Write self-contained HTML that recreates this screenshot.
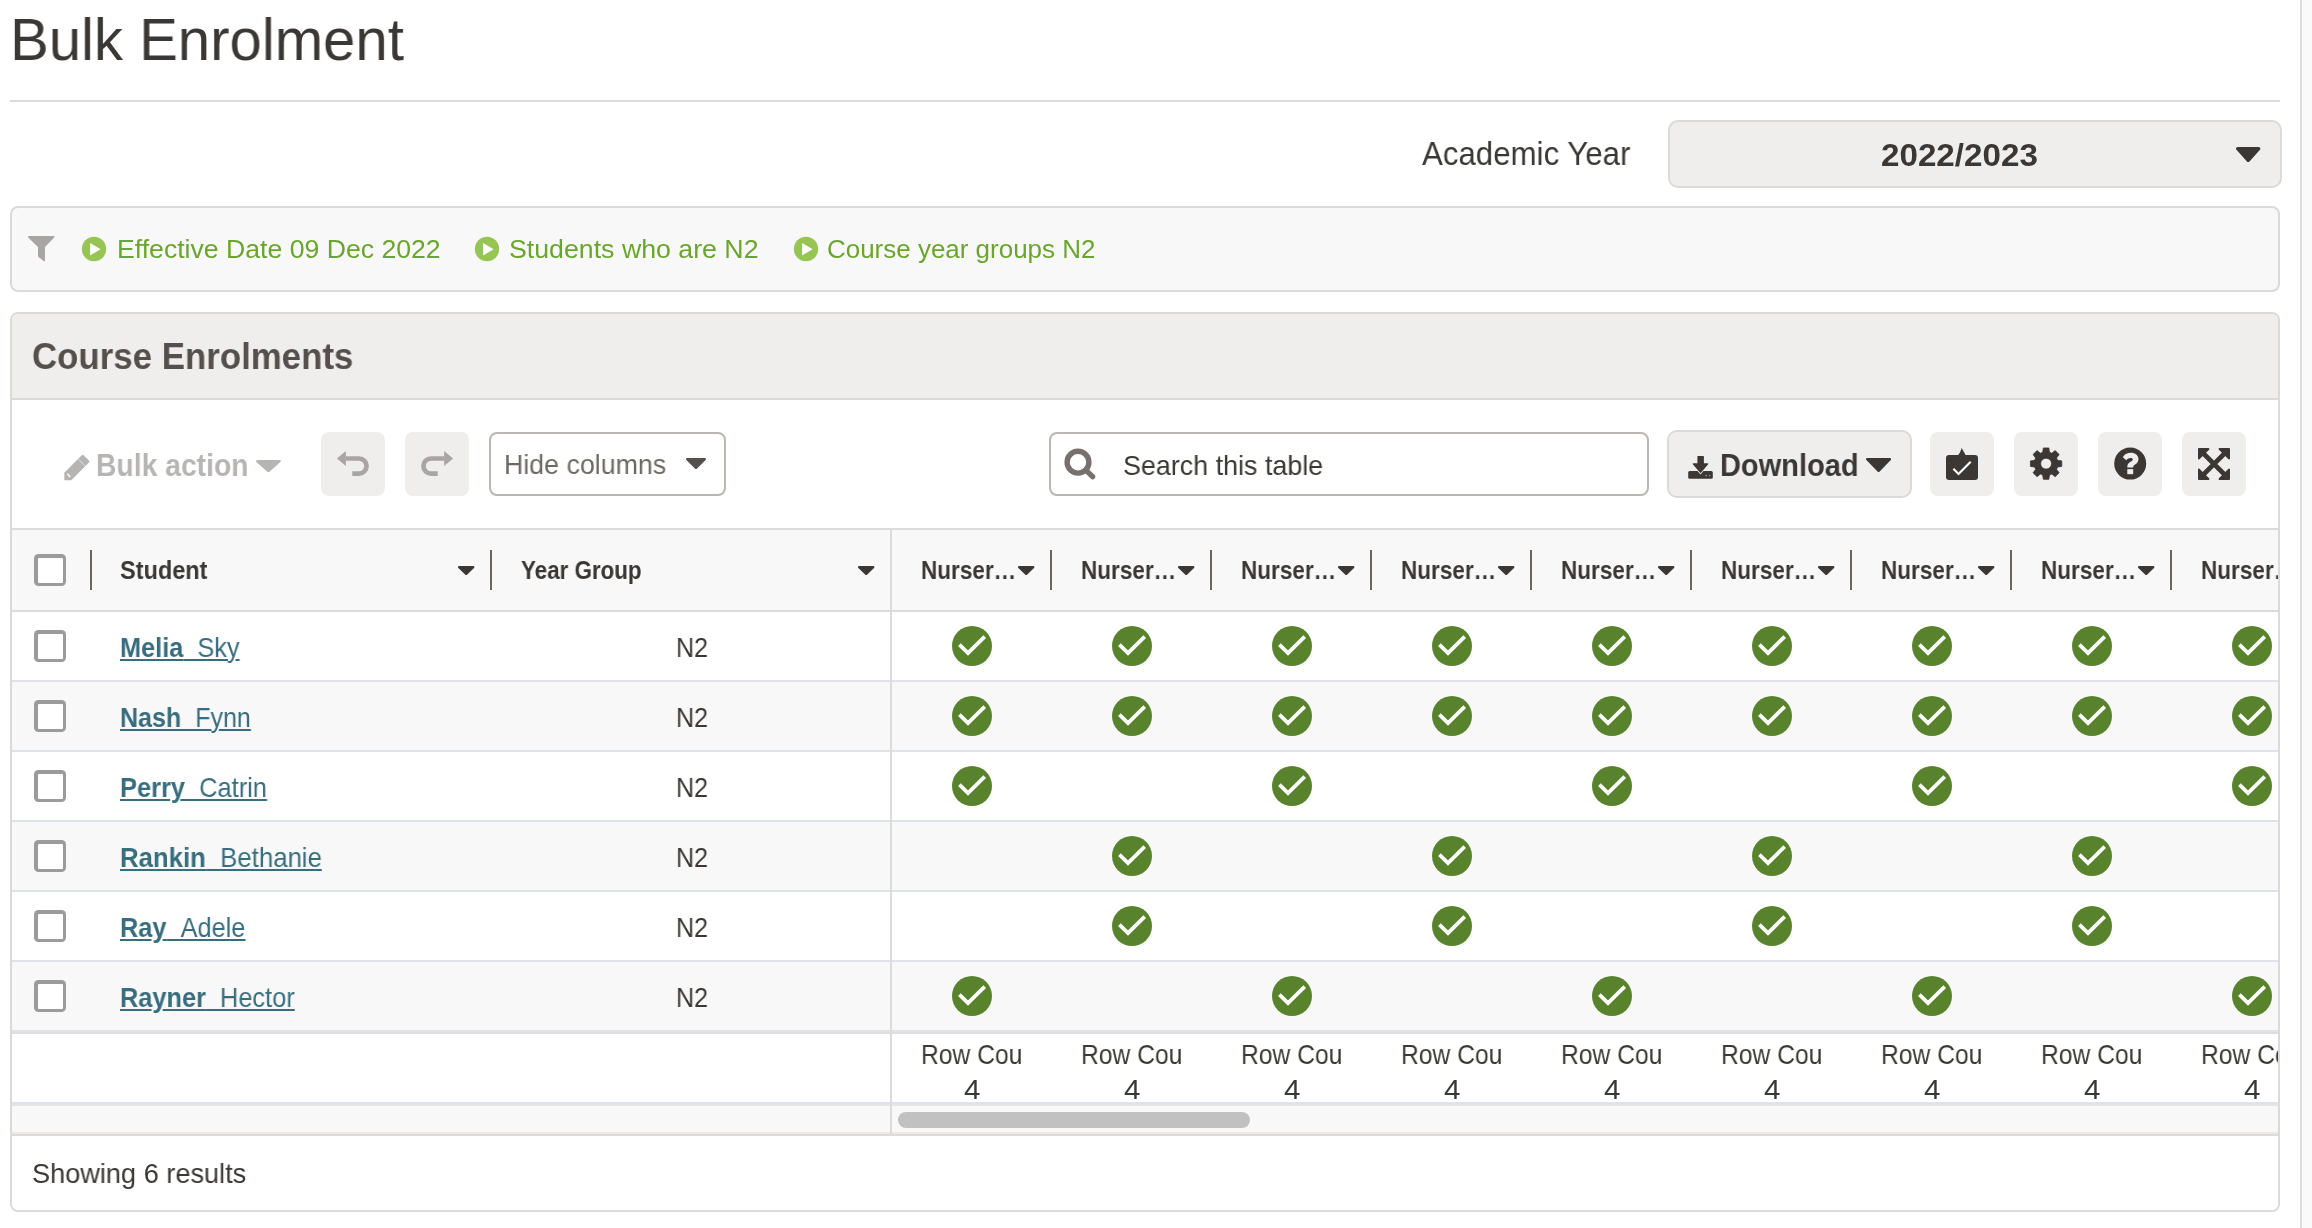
<!DOCTYPE html>
<html lang="en"><head><meta charset="utf-8"><title>Bulk Enrolment</title>
<style>
*{box-sizing:border-box;margin:0;padding:0}
html,body{width:2312px;height:1228px;overflow:hidden;background:#fafafa}
body{font-family:"Liberation Sans",Arial,sans-serif;color:#3b3735;position:relative}
#page{position:absolute;left:0;top:0;width:2302px;height:1228px;background:#fff;border-right:2px solid #e0dedd;overflow:hidden}
.abs{position:absolute;display:block}
.t{will-change:transform;position:absolute;white-space:nowrap;transform-origin:0 50%;display:block;font-weight:400}
.t b{font-weight:700}
a.t{text-decoration:underline;text-decoration-thickness:2px;text-underline-offset:2px}
h1.t,h2.t{font-weight:400}
hr{position:absolute;left:10px;top:100px;width:2270px;height:2px;border:0;background:#dddbda}
.box{position:absolute}
#aysel{left:1668px;top:120px;width:614px;height:68px;background:#efeeed;border:2px solid #dcdad9;border-radius:10px}
#filters{left:10px;top:206px;width:2270px;height:86px;background:#f8f8f8;border:2px solid #dcdad9;border-radius:8px}
#panel{left:10px;top:312px;width:2270px;height:900px;background:#fff;border:2px solid #dcdad9;border-radius:8px;overflow:hidden}
#phead{left:0;top:0;width:2266px;height:86px;background:#efeeed;border-bottom:2px solid #dcdad9}
#toolbar{left:0;top:86px;width:2266px;height:130px;background:#fff;border-bottom:2px solid #dddbda}
.btn{position:absolute;width:64px;height:64px;background:#efeeed;border-radius:8px}
.sel{position:absolute;background:#fff;border:2px solid #b9b6b4;border-radius:8px}
#dl{position:absolute;background:#efeeed;border:2px solid #dcdad9;border-radius:10px}
#grid{left:0;top:216px;width:2266px;height:606px;overflow:hidden}
.grow{position:absolute;left:0;width:2266px}
.cb{position:absolute;width:32px;height:32px;border-radius:4.5px;background:#9b9b9b}
.cb::before{content:"";position:absolute;left:3.5px;top:3.5px;right:3.5px;bottom:3.5px;background:#fff;border-radius:1px}
.sep{position:absolute;width:2px;height:40px;background:#6b6562}
#frozen{position:absolute;left:878px;top:0;width:2px;height:604px;background:#dddbda}
#pfoot{left:0;top:822px;width:2266px;height:74px;background:#fff}
</style></head><body><div id="page">

<h1 class="t" style="left:10.26px;top:4.66px;font-size:58.70px;line-height:70px;color:#3b3735;transform:scaleX(0.9897);">Bulk Enrolment</h1>
<hr>
<label class="t" style="left:1422.30px;top:134.47px;font-size:33.00px;line-height:40px;color:#3b3735;transform:scaleX(0.9466);">Academic Year</label>
<div class="box" id="aysel">
<span class="t" style="left:210.96px;top:14.95px;font-size:31.30px;line-height:38px;color:#3b3735;transform:scaleX(1.0602);font-weight:700;">2022/2023</span>
<svg class="abs" style="left:566.30px;top:24.90px" width="24.40" height="15.10" viewBox="0 0 24.40 15.10"><polygon points="1.70,1.70 22.70,1.70 12.20,13.40" fill="#3b3735" stroke="#3b3735" stroke-width="3.4" stroke-linejoin="round"/></svg>
</div>
<div class="box" id="filters">
<svg class="abs" style="left:14px;top:26px" width="30" height="30" viewBox="26 234 30 30"><path d="M29,236 H53.4 Q55.2,236.2 54,237.8 L45,247 V260.6 Q44.8,262 43.6,261 L38,256.5 V247 L28.4,237.8 Q27.4,236.2 29,236Z" fill="#a9a5a4"/></svg>
<svg class="abs" style="left:69.00px;top:28.00px" width="26" height="26" viewBox="-13 -13 26 26"><circle r="12.2" fill="#97c554"/><path d="M-3.9,-6 L6.6,0.2 L-3.9,6.4Z" fill="#fff"/></svg>
<span class="t" style="left:104.82px;top:26.40px;font-size:25.40px;line-height:30px;color:#6ba52f;transform:scaleX(1.0486);">Effective Date 09 Dec 2022</span>
<svg class="abs" style="left:461.90px;top:28.00px" width="26" height="26" viewBox="-13 -13 26 26"><circle r="12.2" fill="#97c554"/><path d="M-3.9,-6 L6.6,0.2 L-3.9,6.4Z" fill="#fff"/></svg>
<span class="t" style="left:497.36px;top:26.40px;font-size:25.40px;line-height:30px;color:#6ba52f;transform:scaleX(1.0523);">Students who are N2</span>
<svg class="abs" style="left:780.90px;top:28.00px" width="26" height="26" viewBox="-13 -13 26 26"><circle r="12.2" fill="#97c554"/><path d="M-3.9,-6 L6.6,0.2 L-3.9,6.4Z" fill="#fff"/></svg>
<span class="t" style="left:815.18px;top:26.40px;font-size:25.40px;line-height:30px;color:#6ba52f;transform:scaleX(1.0224);">Course year groups N2</span>
</div>
<section class="box" id="panel">
<header class="box" id="phead">
<h2 class="t" style="left:20.11px;top:19.81px;font-size:37.20px;line-height:45px;color:#55504d;transform:scaleX(0.9369);font-weight:700;">Course Enrolments</h2>
</header>
<div class="box" id="toolbar">
<svg class="abs" style="left:51.6px;top:54.7px" width="26" height="26" viewBox="0 0 26 26" fill="#b7b5b4"><path d="M0.3,25.3 L0.3,17.8 L13.985,4.115 L21.235,11.365 L7.3,25.3 Z"/><path d="M14.285,3.815 L17.48,0.62 Q18.75,-0.65 20.02,0.62 L24.73,5.33 Q26,6.6 24.73,7.87 L21.535,11.065 Z"/><path d="M3.7,19.3 L5.8,21.5" stroke="#fff" stroke-width="1.5" stroke-linecap="round" fill="none"/></svg>
<span class="t" style="left:84.13px;top:47.05px;font-size:31.30px;line-height:38px;color:#b7b5b4;transform:scaleX(0.9042);font-weight:700;">Bulk action</span>
<svg class="abs" style="left:244.20px;top:59.90px" width="24.80" height="12.20" viewBox="0 0 24.80 12.20"><polygon points="1.20,1.20 23.60,1.20 12.40,11.00" fill="#b7b5b4" stroke="#b7b5b4" stroke-width="2.4" stroke-linejoin="round"/></svg>
<span class="btn" style="left:309px;top:32px"><svg class="abs" width="64" height="64" viewBox="0 0 64 64"><path d="M24.8,26.5 H38 A7.55,7.55 0 0 1 38,41.6 H31.3" fill="none" stroke="#a9a5a4" stroke-width="4.7"/><path d="M15.9,26.4 L24.9,18.9 V33.9Z" fill="#a9a5a4"/></svg></span>
<span class="btn" style="left:393px;top:32px"><svg class="abs" width="64" height="64" viewBox="0 0 64 64"><g transform="translate(64,0) scale(-1,1)"><path d="M24.8,26.5 H38 A7.55,7.55 0 0 1 38,41.6 H31.3" fill="none" stroke="#a9a5a4" stroke-width="4.7"/><path d="M15.9,26.4 L24.9,18.9 V33.9Z" fill="#a9a5a4"/></g></svg></span>
<div class="sel" style="left:477px;top:32px;width:237px;height:64px">
<span class="t" style="left:12.61px;top:14.11px;font-size:27.40px;line-height:33px;color:#6f6966;transform:scaleX(0.9773);">Hide columns</span>
<svg class="abs" style="left:195.00px;top:24.20px" width="20.00" height="11.00" viewBox="0 0 20.00 11.00"><polygon points="1.20,1.20 18.80,1.20 10.00,9.80" fill="#55504d" stroke="#55504d" stroke-width="2.4" stroke-linejoin="round"/></svg>
</div>
<div class="sel" style="left:1037px;top:32px;width:600px;height:64px">
<svg class="abs" style="left:11px;top:12px" width="36" height="36" viewBox="1062 446 36 36" fill="none" stroke="#77706d" stroke-width="5.4"><circle cx="1078" cy="462.2" r="10.9"/><path d="M1086.3,470.6 L1092.6,476.6" stroke-linecap="round"/></svg>
<span class="t" style="left:71.76px;top:15.01px;font-size:27.40px;line-height:33px;color:#3b3735;transform:scaleX(0.9811);">Search this table</span>
</div>
<div id="dl" style="left:1655px;top:30px;width:245px;height:68px">
<svg class="abs" style="left:17px;top:22px" width="28" height="26" viewBox="1686 454 28 26" fill="#3b3735"><rect x="1688.2" y="471.1" width="24.6" height="7.7" rx="1.5"/><path d="M1698,456.1 H1703.3 Q1703.9,456.1 1703.9,456.7 V463.3 H1707.4 Q1709,463.4 1708,464.5 L1700.5,473.3 L1693,464.5 Q1692,463.4 1693.6,463.3 H1697.4 V456.7 Q1697.4,456.1 1698,456.1Z" stroke="#efeeed" stroke-width="1.7" paint-order="stroke"/><rect x="1705.2" y="474.9" width="1.9" height="1.3" fill="#8d8987"/><rect x="1708.9" y="474.9" width="1.4" height="1.3" fill="#8d8987"/></svg>
<span class="t" style="left:51.29px;top:14.85px;font-size:31.30px;line-height:38px;color:#3b3735;transform:scaleX(0.9267);font-weight:700;">Download</span>
<svg class="abs" style="left:196.80px;top:25.60px" width="25.20" height="14.00" viewBox="0 0 25.20 14.00"><polygon points="1.20,1.20 24.00,1.20 12.60,12.80" fill="#3b3735" stroke="#3b3735" stroke-width="2.4" stroke-linejoin="round"/></svg>
</div>
<span class="btn" style="left:1918px;top:32px"><svg class="abs" width="64" height="64" viewBox="0 0 64 64"><path d="M19,23 H28.2 L30,20.4 L31.7,16 L35.6,23 H45 Q48,23 48,26 V45 Q48,48 45,48 H19 Q16,48 16,45 V26 Q16,23 19,23Z" fill="#3b3735"/><path d="M23.4,36.8 L28.5,41.9 L40.7,29.7" fill="none" stroke="#fff" stroke-width="2.1"/></svg></span>
<span class="btn" style="left:2002px;top:32px"><svg class="abs" width="64" height="64" viewBox="-32.1 -31.65 64 64"><path d="M-3.35,-11.42 L-2.77,-15.66 L2.77,-15.66 L3.35,-11.42 A11.90,11.90 0 0 1 5.71,-10.44 L9.11,-13.03 L13.03,-9.11 L10.44,-5.71 A11.90,11.90 0 0 1 11.42,-3.35 L15.66,-2.77 L15.66,2.77 L11.42,3.35 A11.90,11.90 0 0 1 10.44,5.71 L13.03,9.11 L9.11,13.03 L5.71,10.44 A11.90,11.90 0 0 1 3.35,11.42 L2.77,15.66 L-2.77,15.66 L-3.35,11.42 A11.90,11.90 0 0 1 -5.71,10.44 L-9.11,13.03 L-13.03,9.11 L-10.44,5.71 A11.90,11.90 0 0 1 -11.42,3.35 L-15.66,2.77 L-15.66,-2.77 L-11.42,-3.35 A11.90,11.90 0 0 1 -10.44,-5.71 L-13.03,-9.11 L-9.11,-13.03 L-5.71,-10.44 A11.90,11.90 0 0 1 -3.35,-11.42 Z M5.45,0 A5.45,5.45 0 1 0 -5.45,0 A5.45,5.45 0 1 0 5.45,0Z" fill="#3b3735" fill-rule="evenodd" stroke="#3b3735" stroke-width="0.8" stroke-linejoin="round"/></svg></span>
<span class="btn" style="left:2086px;top:32px"><svg class="abs" width="64" height="64" viewBox="-32.2 -31.57 64 64"><circle r="16" fill="#3b3735"/><path d="M-7.4,-6.4 C-5.4,-9.4 -2.8,-10.7 0.8,-10.7 C5,-10.7 8.25,-8 8.25,-4.4 C8.25,-1.6 6.6,-0.2 4.8,0.9 C3.4,1.8 3,2.4 3,4 L-2.9,4 L-2.9,3.2 C-2.9,0.4 -1.4,-0.8 0.4,-1.9 C1.8,-2.7 2.5,-3.2 2.5,-4.1 C2.5,-5 1.6,-5.5 0.3,-5.5 C-1.5,-5.5 -2.7,-4.7 -3.9,-3.2 Z" fill="#efeeed"/><rect x="-2.9" y="5.55" width="5.9" height="5.05" fill="#efeeed"/></svg></span>
<span class="btn" style="left:2170px;top:32px"><svg class="abs" width="64" height="64" viewBox="-32 -32 64 64"><path d="M-11,-11 L11,11 M11,-11 L-11,11" stroke="#3b3735" stroke-width="4.6" fill="none"/><path d="M15.0,15.0 L15.0,5.6 L5.6,15.0 Z" fill="#3b3735" stroke="#3b3735" stroke-width="2" stroke-linejoin="round"/><path d="M15.0,-15.0 L15.0,-5.6 L5.6,-15.0 Z" fill="#3b3735" stroke="#3b3735" stroke-width="2" stroke-linejoin="round"/><path d="M-15.0,15.0 L-15.0,5.6 L-5.6,15.0 Z" fill="#3b3735" stroke="#3b3735" stroke-width="2" stroke-linejoin="round"/><path d="M-15.0,-15.0 L-15.0,-5.6 L-5.6,-15.0 Z" fill="#3b3735" stroke="#3b3735" stroke-width="2" stroke-linejoin="round"/></svg></span>
</div>
<div class="box" id="grid">
<div class="grow" style="top:0;height:82px;background:#f8f8f8;border-bottom:2px solid #dddbda">
<span class="cb" style="left:22px;top:24px"></span>
<i class="sep" style="left:78px;top:20px"></i>
<span class="t" style="left:107.63px;top:25.10px;font-size:25.40px;line-height:30px;color:#3b3735;transform:scaleX(0.9254);font-weight:700;">Student</span>
<svg class="abs" style="left:446.30px;top:36.00px" width="16.40" height="9.20" viewBox="0 0 16.40 9.20"><polygon points="1.20,1.20 15.20,1.20 8.20,8.00" fill="#3b3735" stroke="#3b3735" stroke-width="2.4" stroke-linejoin="round"/></svg>
<i class="sep" style="left:478px;top:20px"></i>
<span class="t" style="left:508.65px;top:24.80px;font-size:25.40px;line-height:30px;color:#3b3735;transform:scaleX(0.8814);font-weight:700;">Year Group</span>
<svg class="abs" style="left:846.20px;top:36.00px" width="16.40" height="9.20" viewBox="0 0 16.40 9.20"><polygon points="1.20,1.20 15.20,1.20 8.20,8.00" fill="#3b3735" stroke="#3b3735" stroke-width="2.4" stroke-linejoin="round"/></svg>
<span class="t" style="left:908.69px;top:25.30px;font-size:25.40px;line-height:30px;color:#3b3735;transform:scaleX(0.8881);font-weight:700;">Nurser…</span>
<svg class="abs" style="left:1006.20px;top:36.00px" width="16.40" height="9.20" viewBox="0 0 16.40 9.20"><polygon points="1.20,1.20 15.20,1.20 8.20,8.00" fill="#3b3735" stroke="#3b3735" stroke-width="2.4" stroke-linejoin="round"/></svg>
<i class="sep" style="left:1038px;top:20px"></i>
<span class="t" style="left:1068.69px;top:25.30px;font-size:25.40px;line-height:30px;color:#3b3735;transform:scaleX(0.8881);font-weight:700;">Nurser…</span>
<svg class="abs" style="left:1166.20px;top:36.00px" width="16.40" height="9.20" viewBox="0 0 16.40 9.20"><polygon points="1.20,1.20 15.20,1.20 8.20,8.00" fill="#3b3735" stroke="#3b3735" stroke-width="2.4" stroke-linejoin="round"/></svg>
<i class="sep" style="left:1198px;top:20px"></i>
<span class="t" style="left:1228.69px;top:25.30px;font-size:25.40px;line-height:30px;color:#3b3735;transform:scaleX(0.8881);font-weight:700;">Nurser…</span>
<svg class="abs" style="left:1326.20px;top:36.00px" width="16.40" height="9.20" viewBox="0 0 16.40 9.20"><polygon points="1.20,1.20 15.20,1.20 8.20,8.00" fill="#3b3735" stroke="#3b3735" stroke-width="2.4" stroke-linejoin="round"/></svg>
<i class="sep" style="left:1358px;top:20px"></i>
<span class="t" style="left:1388.69px;top:25.30px;font-size:25.40px;line-height:30px;color:#3b3735;transform:scaleX(0.8881);font-weight:700;">Nurser…</span>
<svg class="abs" style="left:1486.20px;top:36.00px" width="16.40" height="9.20" viewBox="0 0 16.40 9.20"><polygon points="1.20,1.20 15.20,1.20 8.20,8.00" fill="#3b3735" stroke="#3b3735" stroke-width="2.4" stroke-linejoin="round"/></svg>
<i class="sep" style="left:1518px;top:20px"></i>
<span class="t" style="left:1548.69px;top:25.30px;font-size:25.40px;line-height:30px;color:#3b3735;transform:scaleX(0.8881);font-weight:700;">Nurser…</span>
<svg class="abs" style="left:1646.20px;top:36.00px" width="16.40" height="9.20" viewBox="0 0 16.40 9.20"><polygon points="1.20,1.20 15.20,1.20 8.20,8.00" fill="#3b3735" stroke="#3b3735" stroke-width="2.4" stroke-linejoin="round"/></svg>
<i class="sep" style="left:1678px;top:20px"></i>
<span class="t" style="left:1708.69px;top:25.30px;font-size:25.40px;line-height:30px;color:#3b3735;transform:scaleX(0.8881);font-weight:700;">Nurser…</span>
<svg class="abs" style="left:1806.20px;top:36.00px" width="16.40" height="9.20" viewBox="0 0 16.40 9.20"><polygon points="1.20,1.20 15.20,1.20 8.20,8.00" fill="#3b3735" stroke="#3b3735" stroke-width="2.4" stroke-linejoin="round"/></svg>
<i class="sep" style="left:1838px;top:20px"></i>
<span class="t" style="left:1868.69px;top:25.30px;font-size:25.40px;line-height:30px;color:#3b3735;transform:scaleX(0.8881);font-weight:700;">Nurser…</span>
<svg class="abs" style="left:1966.20px;top:36.00px" width="16.40" height="9.20" viewBox="0 0 16.40 9.20"><polygon points="1.20,1.20 15.20,1.20 8.20,8.00" fill="#3b3735" stroke="#3b3735" stroke-width="2.4" stroke-linejoin="round"/></svg>
<i class="sep" style="left:1998px;top:20px"></i>
<span class="t" style="left:2028.69px;top:25.30px;font-size:25.40px;line-height:30px;color:#3b3735;transform:scaleX(0.8881);font-weight:700;">Nurser…</span>
<svg class="abs" style="left:2126.20px;top:36.00px" width="16.40" height="9.20" viewBox="0 0 16.40 9.20"><polygon points="1.20,1.20 15.20,1.20 8.20,8.00" fill="#3b3735" stroke="#3b3735" stroke-width="2.4" stroke-linejoin="round"/></svg>
<i class="sep" style="left:2158px;top:20px"></i>
<span class="t" style="left:2188.69px;top:25.30px;font-size:25.40px;line-height:30px;color:#3b3735;transform:scaleX(0.8881);font-weight:700;">Nurser…</span>
<svg class="abs" style="left:2286.20px;top:36.00px" width="16.40" height="9.20" viewBox="0 0 16.40 9.20"><polygon points="1.20,1.20 15.20,1.20 8.20,8.00" fill="#3b3735" stroke="#3b3735" stroke-width="2.4" stroke-linejoin="round"/></svg>
<i class="sep" style="left:2318px;top:20px"></i>
</div>
<div class="grow" style="top:82px;height:70px;background:#fff;border-bottom:2px solid #dfe2ea">
<span class="cb" style="left:22px;top:18px"></span>
<a class="t" style="left:108.32px;top:18.71px;font-size:27.40px;line-height:33px;color:#376d7d;transform:scaleX(0.9239);"><b>Melia</b>&nbsp;&nbsp;Sky</a>
<span class="t" style="left:664.24px;top:18.81px;font-size:27.40px;line-height:33px;color:#3b3735;transform:scaleX(0.9158);">N2</span>
<svg class="abs" style="left:940.0px;top:14.0px" width="40" height="40" viewBox="-20 -20 40 40"><circle r="20" fill="#59822d"/><path d="M-12.6,-1.3 L-4,7 L12.7,-9.4" fill="none" stroke="#fff" stroke-width="3.8" stroke-linejoin="miter"/></svg>
<svg class="abs" style="left:1100.0px;top:14.0px" width="40" height="40" viewBox="-20 -20 40 40"><circle r="20" fill="#59822d"/><path d="M-12.6,-1.3 L-4,7 L12.7,-9.4" fill="none" stroke="#fff" stroke-width="3.8" stroke-linejoin="miter"/></svg>
<svg class="abs" style="left:1260.0px;top:14.0px" width="40" height="40" viewBox="-20 -20 40 40"><circle r="20" fill="#59822d"/><path d="M-12.6,-1.3 L-4,7 L12.7,-9.4" fill="none" stroke="#fff" stroke-width="3.8" stroke-linejoin="miter"/></svg>
<svg class="abs" style="left:1420.0px;top:14.0px" width="40" height="40" viewBox="-20 -20 40 40"><circle r="20" fill="#59822d"/><path d="M-12.6,-1.3 L-4,7 L12.7,-9.4" fill="none" stroke="#fff" stroke-width="3.8" stroke-linejoin="miter"/></svg>
<svg class="abs" style="left:1580.0px;top:14.0px" width="40" height="40" viewBox="-20 -20 40 40"><circle r="20" fill="#59822d"/><path d="M-12.6,-1.3 L-4,7 L12.7,-9.4" fill="none" stroke="#fff" stroke-width="3.8" stroke-linejoin="miter"/></svg>
<svg class="abs" style="left:1740.0px;top:14.0px" width="40" height="40" viewBox="-20 -20 40 40"><circle r="20" fill="#59822d"/><path d="M-12.6,-1.3 L-4,7 L12.7,-9.4" fill="none" stroke="#fff" stroke-width="3.8" stroke-linejoin="miter"/></svg>
<svg class="abs" style="left:1900.0px;top:14.0px" width="40" height="40" viewBox="-20 -20 40 40"><circle r="20" fill="#59822d"/><path d="M-12.6,-1.3 L-4,7 L12.7,-9.4" fill="none" stroke="#fff" stroke-width="3.8" stroke-linejoin="miter"/></svg>
<svg class="abs" style="left:2060.0px;top:14.0px" width="40" height="40" viewBox="-20 -20 40 40"><circle r="20" fill="#59822d"/><path d="M-12.6,-1.3 L-4,7 L12.7,-9.4" fill="none" stroke="#fff" stroke-width="3.8" stroke-linejoin="miter"/></svg>
<svg class="abs" style="left:2220.0px;top:14.0px" width="40" height="40" viewBox="-20 -20 40 40"><circle r="20" fill="#59822d"/><path d="M-12.6,-1.3 L-4,7 L12.7,-9.4" fill="none" stroke="#fff" stroke-width="3.8" stroke-linejoin="miter"/></svg>
</div>
<div class="grow" style="top:152px;height:70px;background:#f8f8f8;border-bottom:2px solid #dfe2ea">
<span class="cb" style="left:22px;top:18px"></span>
<a class="t" style="left:108.33px;top:18.71px;font-size:27.40px;line-height:33px;color:#376d7d;transform:scaleX(0.9143);"><b>Nash</b>&nbsp;&nbsp;Fynn</a>
<span class="t" style="left:664.24px;top:18.81px;font-size:27.40px;line-height:33px;color:#3b3735;transform:scaleX(0.9158);">N2</span>
<svg class="abs" style="left:940.0px;top:14.0px" width="40" height="40" viewBox="-20 -20 40 40"><circle r="20" fill="#59822d"/><path d="M-12.6,-1.3 L-4,7 L12.7,-9.4" fill="none" stroke="#fff" stroke-width="3.8" stroke-linejoin="miter"/></svg>
<svg class="abs" style="left:1100.0px;top:14.0px" width="40" height="40" viewBox="-20 -20 40 40"><circle r="20" fill="#59822d"/><path d="M-12.6,-1.3 L-4,7 L12.7,-9.4" fill="none" stroke="#fff" stroke-width="3.8" stroke-linejoin="miter"/></svg>
<svg class="abs" style="left:1260.0px;top:14.0px" width="40" height="40" viewBox="-20 -20 40 40"><circle r="20" fill="#59822d"/><path d="M-12.6,-1.3 L-4,7 L12.7,-9.4" fill="none" stroke="#fff" stroke-width="3.8" stroke-linejoin="miter"/></svg>
<svg class="abs" style="left:1420.0px;top:14.0px" width="40" height="40" viewBox="-20 -20 40 40"><circle r="20" fill="#59822d"/><path d="M-12.6,-1.3 L-4,7 L12.7,-9.4" fill="none" stroke="#fff" stroke-width="3.8" stroke-linejoin="miter"/></svg>
<svg class="abs" style="left:1580.0px;top:14.0px" width="40" height="40" viewBox="-20 -20 40 40"><circle r="20" fill="#59822d"/><path d="M-12.6,-1.3 L-4,7 L12.7,-9.4" fill="none" stroke="#fff" stroke-width="3.8" stroke-linejoin="miter"/></svg>
<svg class="abs" style="left:1740.0px;top:14.0px" width="40" height="40" viewBox="-20 -20 40 40"><circle r="20" fill="#59822d"/><path d="M-12.6,-1.3 L-4,7 L12.7,-9.4" fill="none" stroke="#fff" stroke-width="3.8" stroke-linejoin="miter"/></svg>
<svg class="abs" style="left:1900.0px;top:14.0px" width="40" height="40" viewBox="-20 -20 40 40"><circle r="20" fill="#59822d"/><path d="M-12.6,-1.3 L-4,7 L12.7,-9.4" fill="none" stroke="#fff" stroke-width="3.8" stroke-linejoin="miter"/></svg>
<svg class="abs" style="left:2060.0px;top:14.0px" width="40" height="40" viewBox="-20 -20 40 40"><circle r="20" fill="#59822d"/><path d="M-12.6,-1.3 L-4,7 L12.7,-9.4" fill="none" stroke="#fff" stroke-width="3.8" stroke-linejoin="miter"/></svg>
<svg class="abs" style="left:2220.0px;top:14.0px" width="40" height="40" viewBox="-20 -20 40 40"><circle r="20" fill="#59822d"/><path d="M-12.6,-1.3 L-4,7 L12.7,-9.4" fill="none" stroke="#fff" stroke-width="3.8" stroke-linejoin="miter"/></svg>
</div>
<div class="grow" style="top:222px;height:70px;background:#fff;border-bottom:2px solid #dfe2ea">
<span class="cb" style="left:22px;top:18px"></span>
<a class="t" style="left:108.31px;top:18.71px;font-size:27.40px;line-height:33px;color:#376d7d;transform:scaleX(0.9282);"><b>Perry</b>&nbsp;&nbsp;Catrin</a>
<span class="t" style="left:664.24px;top:18.81px;font-size:27.40px;line-height:33px;color:#3b3735;transform:scaleX(0.9158);">N2</span>
<svg class="abs" style="left:940.0px;top:14.0px" width="40" height="40" viewBox="-20 -20 40 40"><circle r="20" fill="#59822d"/><path d="M-12.6,-1.3 L-4,7 L12.7,-9.4" fill="none" stroke="#fff" stroke-width="3.8" stroke-linejoin="miter"/></svg>
<svg class="abs" style="left:1260.0px;top:14.0px" width="40" height="40" viewBox="-20 -20 40 40"><circle r="20" fill="#59822d"/><path d="M-12.6,-1.3 L-4,7 L12.7,-9.4" fill="none" stroke="#fff" stroke-width="3.8" stroke-linejoin="miter"/></svg>
<svg class="abs" style="left:1580.0px;top:14.0px" width="40" height="40" viewBox="-20 -20 40 40"><circle r="20" fill="#59822d"/><path d="M-12.6,-1.3 L-4,7 L12.7,-9.4" fill="none" stroke="#fff" stroke-width="3.8" stroke-linejoin="miter"/></svg>
<svg class="abs" style="left:1900.0px;top:14.0px" width="40" height="40" viewBox="-20 -20 40 40"><circle r="20" fill="#59822d"/><path d="M-12.6,-1.3 L-4,7 L12.7,-9.4" fill="none" stroke="#fff" stroke-width="3.8" stroke-linejoin="miter"/></svg>
<svg class="abs" style="left:2220.0px;top:14.0px" width="40" height="40" viewBox="-20 -20 40 40"><circle r="20" fill="#59822d"/><path d="M-12.6,-1.3 L-4,7 L12.7,-9.4" fill="none" stroke="#fff" stroke-width="3.8" stroke-linejoin="miter"/></svg>
</div>
<div class="grow" style="top:292px;height:70px;background:#f8f8f8;border-bottom:2px solid #dfe2ea">
<span class="cb" style="left:22px;top:18px"></span>
<a class="t" style="left:108.29px;top:18.71px;font-size:27.40px;line-height:33px;color:#376d7d;transform:scaleX(0.9404);"><b>Rankin</b>&nbsp;&nbsp;Bethanie</a>
<span class="t" style="left:664.24px;top:18.81px;font-size:27.40px;line-height:33px;color:#3b3735;transform:scaleX(0.9158);">N2</span>
<svg class="abs" style="left:1100.0px;top:14.0px" width="40" height="40" viewBox="-20 -20 40 40"><circle r="20" fill="#59822d"/><path d="M-12.6,-1.3 L-4,7 L12.7,-9.4" fill="none" stroke="#fff" stroke-width="3.8" stroke-linejoin="miter"/></svg>
<svg class="abs" style="left:1420.0px;top:14.0px" width="40" height="40" viewBox="-20 -20 40 40"><circle r="20" fill="#59822d"/><path d="M-12.6,-1.3 L-4,7 L12.7,-9.4" fill="none" stroke="#fff" stroke-width="3.8" stroke-linejoin="miter"/></svg>
<svg class="abs" style="left:1740.0px;top:14.0px" width="40" height="40" viewBox="-20 -20 40 40"><circle r="20" fill="#59822d"/><path d="M-12.6,-1.3 L-4,7 L12.7,-9.4" fill="none" stroke="#fff" stroke-width="3.8" stroke-linejoin="miter"/></svg>
<svg class="abs" style="left:2060.0px;top:14.0px" width="40" height="40" viewBox="-20 -20 40 40"><circle r="20" fill="#59822d"/><path d="M-12.6,-1.3 L-4,7 L12.7,-9.4" fill="none" stroke="#fff" stroke-width="3.8" stroke-linejoin="miter"/></svg>
</div>
<div class="grow" style="top:362px;height:70px;background:#fff;border-bottom:2px solid #dfe2ea">
<span class="cb" style="left:22px;top:18px"></span>
<a class="t" style="left:108.32px;top:18.71px;font-size:27.40px;line-height:33px;color:#376d7d;transform:scaleX(0.9251);"><b>Ray</b>&nbsp;&nbsp;Adele</a>
<span class="t" style="left:664.24px;top:18.81px;font-size:27.40px;line-height:33px;color:#3b3735;transform:scaleX(0.9158);">N2</span>
<svg class="abs" style="left:1100.0px;top:14.0px" width="40" height="40" viewBox="-20 -20 40 40"><circle r="20" fill="#59822d"/><path d="M-12.6,-1.3 L-4,7 L12.7,-9.4" fill="none" stroke="#fff" stroke-width="3.8" stroke-linejoin="miter"/></svg>
<svg class="abs" style="left:1420.0px;top:14.0px" width="40" height="40" viewBox="-20 -20 40 40"><circle r="20" fill="#59822d"/><path d="M-12.6,-1.3 L-4,7 L12.7,-9.4" fill="none" stroke="#fff" stroke-width="3.8" stroke-linejoin="miter"/></svg>
<svg class="abs" style="left:1740.0px;top:14.0px" width="40" height="40" viewBox="-20 -20 40 40"><circle r="20" fill="#59822d"/><path d="M-12.6,-1.3 L-4,7 L12.7,-9.4" fill="none" stroke="#fff" stroke-width="3.8" stroke-linejoin="miter"/></svg>
<svg class="abs" style="left:2060.0px;top:14.0px" width="40" height="40" viewBox="-20 -20 40 40"><circle r="20" fill="#59822d"/><path d="M-12.6,-1.3 L-4,7 L12.7,-9.4" fill="none" stroke="#fff" stroke-width="3.8" stroke-linejoin="miter"/></svg>
</div>
<div class="grow" style="top:432px;height:70px;background:#f8f8f8;border-bottom:2px solid #dfe2ea">
<span class="cb" style="left:22px;top:18px"></span>
<a class="t" style="left:108.32px;top:18.71px;font-size:27.40px;line-height:33px;color:#376d7d;transform:scaleX(0.9252);"><b>Rayner</b>&nbsp;&nbsp;Hector</a>
<span class="t" style="left:664.24px;top:18.81px;font-size:27.40px;line-height:33px;color:#3b3735;transform:scaleX(0.9158);">N2</span>
<svg class="abs" style="left:940.0px;top:14.0px" width="40" height="40" viewBox="-20 -20 40 40"><circle r="20" fill="#59822d"/><path d="M-12.6,-1.3 L-4,7 L12.7,-9.4" fill="none" stroke="#fff" stroke-width="3.8" stroke-linejoin="miter"/></svg>
<svg class="abs" style="left:1260.0px;top:14.0px" width="40" height="40" viewBox="-20 -20 40 40"><circle r="20" fill="#59822d"/><path d="M-12.6,-1.3 L-4,7 L12.7,-9.4" fill="none" stroke="#fff" stroke-width="3.8" stroke-linejoin="miter"/></svg>
<svg class="abs" style="left:1580.0px;top:14.0px" width="40" height="40" viewBox="-20 -20 40 40"><circle r="20" fill="#59822d"/><path d="M-12.6,-1.3 L-4,7 L12.7,-9.4" fill="none" stroke="#fff" stroke-width="3.8" stroke-linejoin="miter"/></svg>
<svg class="abs" style="left:1900.0px;top:14.0px" width="40" height="40" viewBox="-20 -20 40 40"><circle r="20" fill="#59822d"/><path d="M-12.6,-1.3 L-4,7 L12.7,-9.4" fill="none" stroke="#fff" stroke-width="3.8" stroke-linejoin="miter"/></svg>
<svg class="abs" style="left:2220.0px;top:14.0px" width="40" height="40" viewBox="-20 -20 40 40"><circle r="20" fill="#59822d"/><path d="M-12.6,-1.3 L-4,7 L12.7,-9.4" fill="none" stroke="#fff" stroke-width="3.8" stroke-linejoin="miter"/></svg>
</div>
<div class="grow" style="top:502px;height:72px;background:#fff;border-top:2px solid #e0dedd;border-bottom:2px solid #dfe2ec">
<span class="t" style="left:908.68px;top:4.01px;font-size:27.40px;line-height:33px;color:#3b3735;transform:scaleX(0.8990);clip-path:inset(0 23.39px 0 0);">Row Count</span>
<span class="t" style="left:952.34px;top:38.71px;font-size:27.40px;line-height:33px;color:#3b3735;transform:scaleX(1.0759);">4</span>
<span class="t" style="left:1068.68px;top:4.01px;font-size:27.40px;line-height:33px;color:#3b3735;transform:scaleX(0.8990);clip-path:inset(0 23.39px 0 0);">Row Count</span>
<span class="t" style="left:1112.34px;top:38.71px;font-size:27.40px;line-height:33px;color:#3b3735;transform:scaleX(1.0759);">4</span>
<span class="t" style="left:1228.68px;top:4.01px;font-size:27.40px;line-height:33px;color:#3b3735;transform:scaleX(0.8990);clip-path:inset(0 23.39px 0 0);">Row Count</span>
<span class="t" style="left:1272.34px;top:38.71px;font-size:27.40px;line-height:33px;color:#3b3735;transform:scaleX(1.0759);">4</span>
<span class="t" style="left:1388.68px;top:4.01px;font-size:27.40px;line-height:33px;color:#3b3735;transform:scaleX(0.8990);clip-path:inset(0 23.39px 0 0);">Row Count</span>
<span class="t" style="left:1432.34px;top:38.71px;font-size:27.40px;line-height:33px;color:#3b3735;transform:scaleX(1.0759);">4</span>
<span class="t" style="left:1548.68px;top:4.01px;font-size:27.40px;line-height:33px;color:#3b3735;transform:scaleX(0.8990);clip-path:inset(0 23.39px 0 0);">Row Count</span>
<span class="t" style="left:1592.34px;top:38.71px;font-size:27.40px;line-height:33px;color:#3b3735;transform:scaleX(1.0759);">4</span>
<span class="t" style="left:1708.68px;top:4.01px;font-size:27.40px;line-height:33px;color:#3b3735;transform:scaleX(0.8990);clip-path:inset(0 23.39px 0 0);">Row Count</span>
<span class="t" style="left:1752.34px;top:38.71px;font-size:27.40px;line-height:33px;color:#3b3735;transform:scaleX(1.0759);">4</span>
<span class="t" style="left:1868.68px;top:4.01px;font-size:27.40px;line-height:33px;color:#3b3735;transform:scaleX(0.8990);clip-path:inset(0 23.39px 0 0);">Row Count</span>
<span class="t" style="left:1912.34px;top:38.71px;font-size:27.40px;line-height:33px;color:#3b3735;transform:scaleX(1.0759);">4</span>
<span class="t" style="left:2028.68px;top:4.01px;font-size:27.40px;line-height:33px;color:#3b3735;transform:scaleX(0.8990);clip-path:inset(0 23.39px 0 0);">Row Count</span>
<span class="t" style="left:2072.34px;top:38.71px;font-size:27.40px;line-height:33px;color:#3b3735;transform:scaleX(1.0759);">4</span>
<span class="t" style="left:2188.68px;top:4.01px;font-size:27.40px;line-height:33px;color:#3b3735;transform:scaleX(0.8990);clip-path:inset(0 23.39px 0 0);">Row Count</span>
<span class="t" style="left:2232.34px;top:38.71px;font-size:27.40px;line-height:33px;color:#3b3735;transform:scaleX(1.0759);">4</span>
</div>
<div class="grow" style="top:574px;height:32px;background:#f8f8f8;border-top:2px solid #e6e5e4;border-bottom:2px solid #dddbda;box-shadow:inset 0 -2px 0 #ebeae9">
<span class="abs" style="left:886px;top:6px;width:352px;height:16px;border-radius:8px;background:#c1c1c1"></span>
</div>
<i id="frozen"></i>
</div>
<footer class="box" id="pfoot">
<span class="t" style="left:20.05px;top:21.01px;font-size:27.40px;line-height:33px;color:#3b3735;transform:scaleX(0.9909);">Showing 6 results</span>
</footer>
</section>
</div></body></html>
